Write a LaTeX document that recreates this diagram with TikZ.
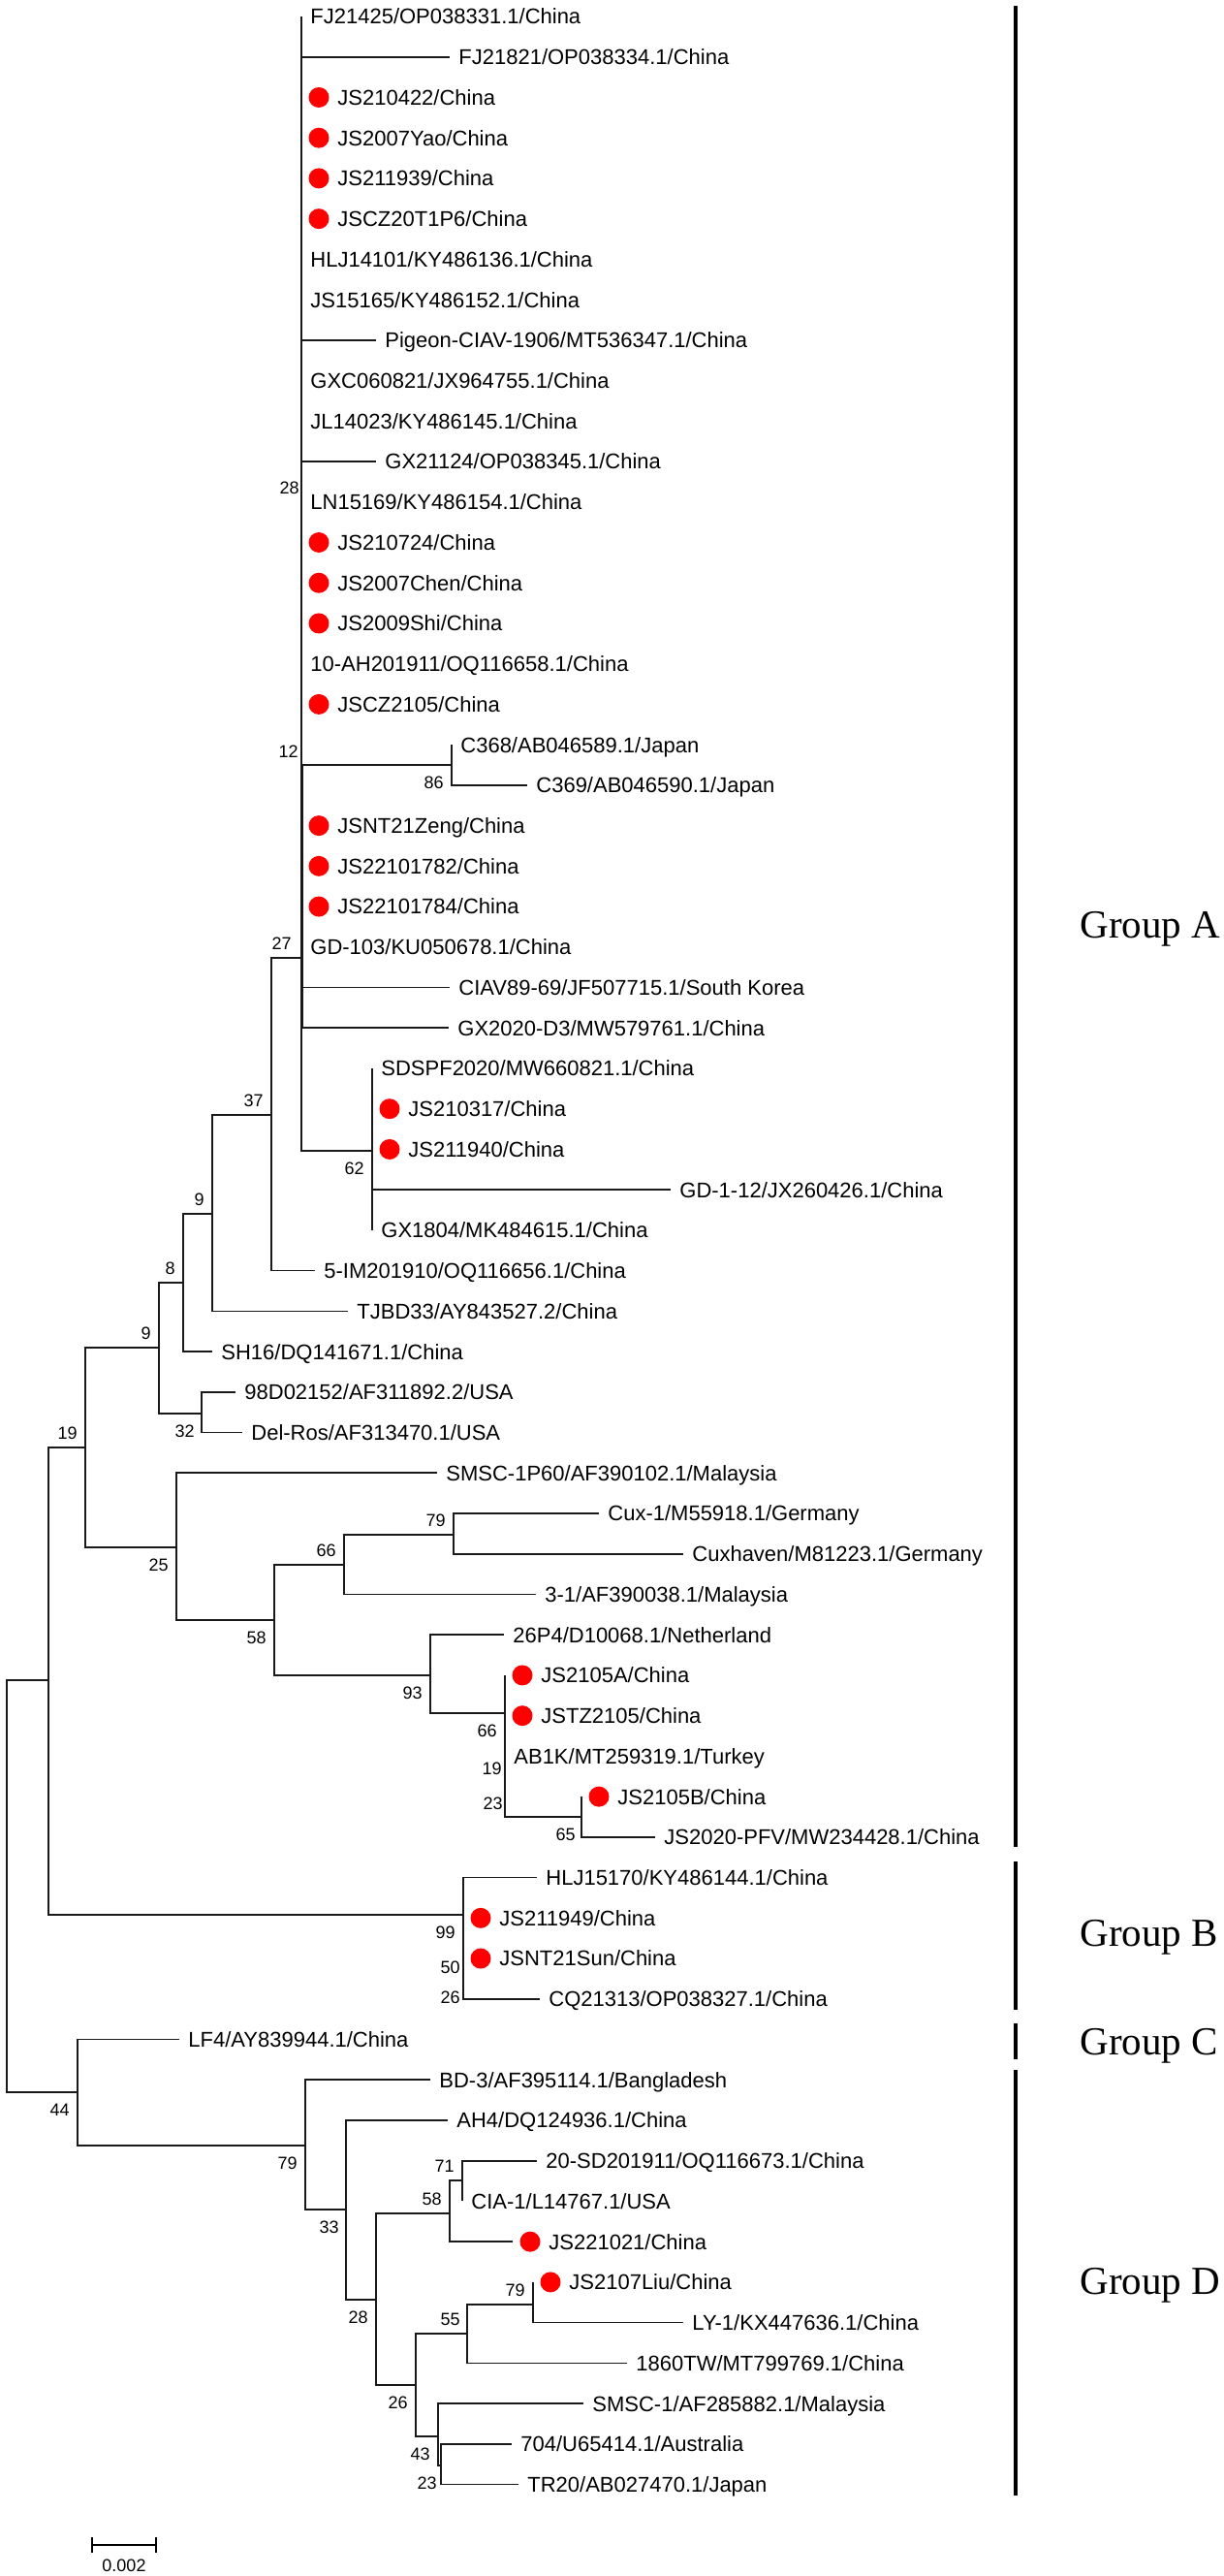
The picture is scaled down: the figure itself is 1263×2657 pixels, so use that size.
\documentclass[tikz,border=0pt]{standalone}
\usepackage{fontspec}
\setmainfont{Liberation Serif}
\setsansfont{Liberation Sans}
\usetikzlibrary{arrows.meta}

\tikzset{
  branch/.style={line width=0.85pt, black!90},
  backbone/.style={line width=1.2pt, black!90},
  taxon/.style={anchor=west, inner xsep=4.5pt, inner ysep=0pt, text height=7.9pt, text depth=0pt,
    font=\sffamily\fontsize{11}{13}\selectfont},
  isolate/.style={circle, fill=red, draw=none, inner sep=0pt, minimum size=10.5pt},
  boot/.style={inner sep=0pt, text height=6.4pt, text depth=0pt, font=\sffamily\fontsize{9}{10}\selectfont},
  bootup/.style={boot, anchor=east, xshift=-4pt, yshift=7.5pt},
  bootdn/.style={boot, anchor=east, xshift=-4pt, yshift=-9pt},
  groupbar/.style={line width=1.7pt},
  grouplabel/.style={anchor=base west, inner sep=0pt, font=\fontsize{20.5}{24}\selectfont}
}

\begin{document}
\begin{tikzpicture}[x=0.5pt, y=-0.5pt]
    \useasboundingbox (0,0) rectangle (1263,2657);

    % Noeuds internes
    \foreach \n/\x/\y in {R/7/1945.5, nA/50/1733, n19/88/1493, n9b/164/1390, n8/189/1323,
        n9a/219/1252, n37/280/1150, n27/311/988, n12/311/790, n28/311/518, n86/466/789,
        n62/384/1187, n32/208/1458, n25/182/1596, n58/283/1671, n66a/355/1614, n79a/468/1583,
        n93/444/1728, n66b/521/1767, n19b/521/1806, n23b/521/1842, n65/600/1874,
        n99/478/1975, n50/478/2011, n26b/478/2042,
        n44/80/2158, n79d/315/2213, n33/357/2279, n28d/388/2372, n58d/464/2283, n71/477/2249,
        n26d/429/2460, n55/482/2407, n79L/550/2377, n43/452/2513, n23d/455/2543}
        \coordinate (\n) at (\x,\y);

    % Feuilles (extremite de branche / rang / isolat)
    \foreach \n/\x/\i/\d/\t in {
        L1/311/1/0/{FJ21425/OP038331.1/China},
        L2/464/2/0/{FJ21821/OP038334.1/China},
        L3/311/3/1/{JS210422/China},
        L4/311/4/1/{JS2007Yao/China},
        L5/311/5/1/{JS211939/China},
        L6/311/6/1/{JSCZ20T1P6/China},
        L7/311/7/0/{HLJ14101/KY486136.1/China},
        L8/311/8/0/{JS15165/KY486152.1/China},
        L9/388/9/0/{Pigeon-CIAV-1906/MT536347.1/China},
        L10/311/10/0/{GXC060821/JX964755.1/China},
        L11/311/11/0/{JL14023/KY486145.1/China},
        L12/388/12/0/{GX21124/OP038345.1/China},
        L13/311/13/0/{LN15169/KY486154.1/China},
        L14/311/14/1/{JS210724/China},
        L15/311/15/1/{JS2007Chen/China},
        L16/311/16/1/{JS2009Shi/China},
        L17/311/17/0/{10-AH201911/OQ116658.1/China},
        L18/311/18/1/{JSCZ2105/China},
        L19/466/19/0/{C368/AB046589.1/Japan},
        L20/544/20/0/{C369/AB046590.1/Japan},
        L21/311/21/1/{JSNT21Zeng/China},
        L22/311/22/1/{JS22101782/China},
        L23/311/23/1/{JS22101784/China},
        L24/311/24/0/{GD-103/KU050678.1/China},
        L25/464/25/0/{CIAV89-69/JF507715.1/South Korea},
        L26/463/26/0/{GX2020-D3/MW579761.1/China},
        L27/384/27/0/{SDSPF2020/MW660821.1/China},
        L28/384/28/1/{JS210317/China},
        L29/384/29/1/{JS211940/China},
        L30/692/30/0/{GD-1-12/JX260426.1/China},
        L31/384/31/0/{GX1804/MK484615.1/China},
        L32/325/32/0/{5-IM201910/OQ116656.1/China},
        L33/359/33/0/{TJBD33/AY843527.2/China},
        L34/219/34/0/{SH16/DQ141671.1/China},
        L35/243/35/0/{98D02152/AF311892.2/USA},
        L36/250/36/0/{Del-Ros/AF313470.1/USA},
        L37/451/37/0/{SMSC-1P60/AF390102.1/Malaysia},
        L38/618/38/0/{Cux-1/M55918.1/Germany},
        L39/705/39/0/{Cuxhaven/M81223.1/Germany},
        L40/553/40/0/{3-1/AF390038.1/Malaysia},
        L41/520/41/0/{26P4/D10068.1/Netherland},
        L42/521/42/1/{JS2105A/China},
        L43/521/43/1/{JSTZ2105/China},
        L44/521/44/0/{AB1K/MT259319.1/Turkey},
        L45/600/45/1/{JS2105B/China},
        L46/676/46/0/{JS2020-PFV/MW234428.1/China},
        L47/554/47/0/{HLJ15170/KY486144.1/China},
        L48/478/48/1/{JS211949/China},
        L49/478/49/1/{JSNT21Sun/China},
        L50/557/50/0/{CQ21313/OP038327.1/China},
        L51/185/51/0/{LF4/AY839944.1/China},
        L52/444/52/0/{BD-3/AF395114.1/Bangladesh},
        L53/462/53/0/{AH4/DQ124936.1/China},
        L54/554/54/0/{20-SD201911/OQ116673.1/China},
        L55/477/55/0/{CIA-1/L14767.1/USA},
        L56/529/56/1/{JS221021/China},
        L57/550/57/1/{JS2107Liu/China},
        L58/705/58/0/{LY-1/KX447636.1/China},
        L59/647/59/0/{1860TW/MT799769.1/China},
        L60/602/60/0/{SMSC-1/AF285882.1/Malaysia},
        L61/528/61/0/{704/U65414.1/Australia},
        L62/535/62/0/{TR20/AB027470.1/Japan}}
    {
        \coordinate (\n) at (\x,{17+(\i-1)*41.73});
        \ifnum\d=1
            \node[isolate] (d\n) at ([xshift=9pt]\n) {};
            \node[taxon] (t\n) at ([xshift=14pt]\n) {\t};
        \else
            \node[taxon] (t\n) at (\n) {\t};
        \fi
    }

    % Branches
    \foreach \p/\c in {R/nA, R/n44, nA/n19, nA/n99, n19/n9b, n19/n25, n9b/n8, n9b/n32,
        n8/n9a, n8/L34, n9a/n37, n9a/L33, n37/n27, n37/L32,
        n27/n12, n27/L21, n27/L22, n27/L23, n27/L24, n27/L25, n27/L26, n27/n62,
        n12/n28, n12/n86, n86/L19, n86/L20,
        n62/L27, n62/L28, n62/L29, n62/L30, n62/L31, n32/L35, n32/L36,
        n25/L37, n25/n58, n58/n66a, n58/n93, n66a/n79a, n66a/L40, n79a/L38, n79a/L39,
        n93/L41, n93/n66b, n66b/L42, n66b/n19b, n19b/L43, n19b/n23b, n23b/L44, n23b/n65,
        n65/L45, n65/L46, n99/L47, n99/n50, n50/L48, n50/n26b, n26b/L49, n26b/L50,
        n44/L51, n44/n79d, n79d/L52, n79d/n33, n33/L53, n33/n28d, n28d/n58d, n28d/n26d,
        n58d/n71, n58d/L56, n71/L54, n71/L55, n26d/n55, n26d/n43, n55/n79L, n55/L59,
        n79L/L57, n79L/L58, n43/L60, n43/n23d, n23d/L61, n23d/L62}
        \draw[branch] (\p) |- (\c);
    \foreach \c in {1,...,18}
        \draw[branch] (n28) |- (L\c);

    % Tronc epaissi du groupe A
    \draw[backbone] (n28) -- (n12);
    \draw[backbone, line width=1.5pt] (n12) -- (n27 |- L26);

    % Valeurs de bootstrap
    \foreach \c/\v/\dx in {n28/28/3, n12/12/2.5, n27/27/-1, n37/37/0, n9a/9/0, n8/8/0,
        n9b/9/0, n19/19/0, n66a/66/0, n79a/79/0, n71/71/0, n58d/58/0, n55/55/0.5, n79L/79/0}
        \node[bootup, xshift=\dx pt] (b\c) at (\c) {\v};
    \foreach \c/\v/\dx in {n86/86/0, n62/62/0, n32/32/0.5, n25/25/0, n58/58/0, n93/93/0,
        n66b/66/0, n19b/19/2.5, n23b/23/3, n65/65/1, n99/99/0, n50/50/2.5, n26b/26/2.5,
        n44/44/0, n79d/79/0, n33/33/0.5, n28d/28/0, n26d/26/0, n43/43/0, n23d/23/2}
        \node[bootdn, xshift=\dx pt] (b\c) at (\c) {\v};

    % Groupes
    \foreach \g/\ya/\yb/\yt in {A/6/1905/967, B/1920/2073/2007, C/2087/2124/2119, D/2135/2574/2366} {
        \coordinate (g\g top) at (1048,\ya);
        \coordinate (g\g bot) at (1048,\yb);
        \draw[groupbar] (g\g top) -- (g\g bot);
        \node[grouplabel] (g\g lab) at (1114,\yt) {Group \g};
    }

    % Echelle
    \coordinate (s1) at (94,2625);
    \coordinate (s2) at (162,2625);
    \draw[line width=0.8pt, {Bar[width=8pt]}-{Bar[width=8pt]}] (s1) -- (s2);
    \node[boot] (slab) at (128,2646) {0.002};
\end{tikzpicture}
\end{document}
